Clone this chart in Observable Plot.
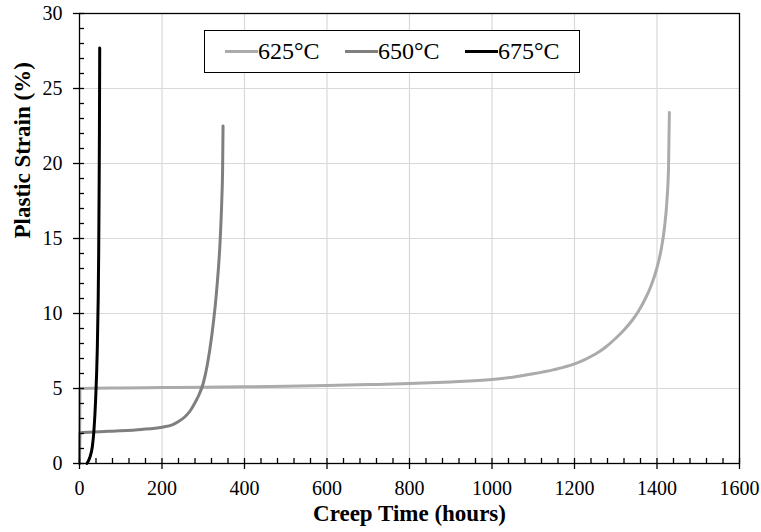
<!DOCTYPE html>
<html><head><meta charset="utf-8">
<script src="https://cdn.jsdelivr.net/npm/d3@7"></script>
<script src="https://cdn.jsdelivr.net/npm/@observablehq/plot@0.6"></script>
<style>
body{margin:0;background:#fff;}
#wrap{position:relative;width:761px;height:532px;font-family:"Liberation Serif","Times New Roman",serif;}
#legend{position:absolute;left:204px;top:30px;width:376px;height:43px;box-sizing:border-box;border:1.5px solid #000;background:#fff;display:flex;align-items:center;padding-left:20px;font-size:24px;color:#000;}
.item{display:flex;align-items:center;width:120px;flex:none;}
.sw{width:33px;height:3px;flex:none;}
</style></head><body><div id="wrap"></div>
<script>
const series = ["625°C", "650°C", "675°C"];
const colors = ["#ababab", "#7f7f7f", "#000000"];

const hours625 = [0, 1, 100, 200, 300, 400, 500, 600, 700, 800, 900, 1000, 1050, 1100, 1150, 1200, 1225, 1250, 1275, 1300, 1320, 1340, 1355, 1370, 1385, 1400, 1410, 1418, 1424, 1428, 1430];
const strain625 = [0, 5.0, 5.04, 5.06, 5.08, 5.11, 5.15, 5.2, 5.26, 5.33, 5.44, 5.6, 5.75, 5.98, 6.26, 6.64, 6.93, 7.28, 7.75, 8.35, 8.9, 9.55, 10.15, 10.9, 11.8, 13.05, 14.25, 15.7, 17.5, 19.8, 23.4];

const hours650 = [0, 1, 50, 100, 150, 200, 225, 240, 255, 268, 280, 290, 300, 310, 321, 333, 341, 345, 347, 348];
const strain650 = [0, 2.05, 2.12, 2.18, 2.27, 2.42, 2.58, 2.8, 3.1, 3.5, 4.05, 4.6, 5.35, 6.6, 8.6, 11.7, 14.9, 17.6, 19.8, 22.5];

const hours675 = [18, 25, 31, 35, 39, 43, 45.3, 46.5, 47.5, 48.3, 49];
const strain675 = [0, 0.4, 1.1, 2.2, 4.2, 7.5, 10.9, 14, 18, 22, 27.7];

const xTicks = [0, 200, 400, 600, 800, 1000, 1200, 1400, 1600];
const yTicks = [0, 5, 10, 15, 20, 25, 30];
const xTitle = "Creep Time (hours)";
const yTitle = "Plastic Strain (%)";

const hours = [hours625, hours650, hours675];
const strains = [strain625, strain650, strain675];
const data = [];
series.forEach((name, i) => hours[i].forEach((h, j) => data.push({series: name, t: h, s: strains[i][j]})));

const xMinor = d3.range(0, 1601, 40).filter(v => v % 200 !== 0);
const yMinor = d3.range(0, 31, 1).filter(v => v % 5 !== 0);
const fmt = d => String(d);

const chart = Plot.plot({
  width: 761, height: 532,
  marginLeft: 79, marginRight: 22, marginTop: 13, marginBottom: 69,
  style: {fontFamily: "'Liberation Serif', 'Times New Roman', serif", fontSize: "20px", background: "white", color: "black"},
  x: {domain: [0, 1600]},
  y: {domain: [0, 30]},
  color: {domain: series, range: colors},
  marks: [
    Plot.gridX(xTicks.slice(1, -1), {stroke: "#d9d9d9", strokeOpacity: 1, strokeWidth: 1.2}),
    Plot.gridY(yTicks.slice(1, -1), {stroke: "#d9d9d9", strokeOpacity: 1, strokeWidth: 1.2}),
    Plot.line(data, {x: "t", y: "s", z: "series", stroke: "series", strokeWidth: 3, curve: "monotone-x"}),
    Plot.frame({stroke: "black", strokeWidth: 1.3}),
    Plot.axisX(xTicks, {tickSize: 11, dy: -5, fill: "none", strokeWidth: 1.3, label: null}),
    Plot.axisX(xMinor, {tickSize: 5, dy: -5, fill: "none", strokeWidth: 1.3, label: null}),
    Plot.axisX(xTicks, {tickSize: 0, tickPadding: 17, label: null, fontSize: 20, tickFormat: fmt}),
    Plot.axisY(yTicks, {tickSize: 11, dx: 5, fill: "none", strokeWidth: 1.3, label: null}),
    Plot.axisY(yMinor, {tickSize: 5, dx: 5, fill: "none", strokeWidth: 1.3, label: null}),
    Plot.axisY(yTicks, {tickSize: 0, tickPadding: 17, label: null, fontSize: 20, tickFormat: fmt}),
    Plot.text([xTitle], {frameAnchor: "bottom", dy: 57, fontWeight: "bold", fontSize: 23, fill: "black"}),
    Plot.text([yTitle], {frameAnchor: "left", dx: -57, rotate: -90, fontWeight: "bold", fontSize: 23, fill: "black"})
  ]
});

const wrap = document.getElementById("wrap");
wrap.appendChild(chart);
const legend = document.createElement("div");
legend.id = "legend";
series.forEach((name, i) => {
  const it = document.createElement("div");
  it.className = "item";
  const sw = document.createElement("div");
  sw.className = "sw";
  sw.style.background = colors[i];
  const tx = document.createElement("span");
  tx.textContent = name;
  it.appendChild(sw); it.appendChild(tx);
  legend.appendChild(it);
});
wrap.appendChild(legend);
</script></body></html>
